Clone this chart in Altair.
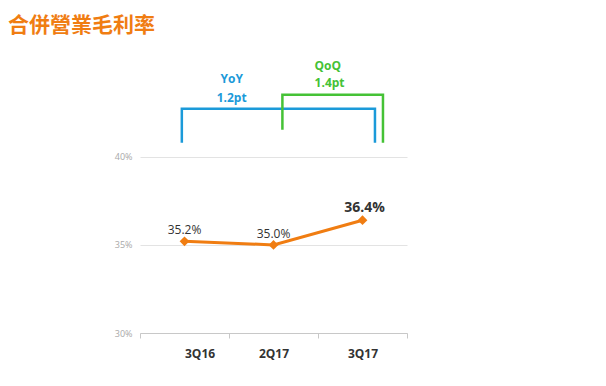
import altair as alt
import pandas as pd

# ---- data ----
categories = ["3Q16", "2Q17", "3Q17"]
margins = [35.2, 35.0, 36.4]
value_labels = ["35.2%", "35.0%", "36.4%"]

# comparison brackets (x in category-slot units, y in % units)
yoy_x = [0.47, 0.47, 2.64, 2.64]
yoy_y = [40.8, 42.73, 42.73, 40.8]
qoq_x = [1.60, 1.60, 2.73, 2.73]
qoq_y = [41.53, 43.52, 43.52, 40.8]
bracket_text_x = [1.03, 1.03, 2.11, 2.13]
bracket_text_y = [44.4, 43.32, 45.15, 44.18]
bracket_text = ["YoY", "1.2pt", "QoQ", "1.4pt"]
bracket_text_grp = ["YoY", "YoY", "QoQ", "QoQ"]

ORANGE = "#F07D12"
BLUE = "#1B9AD9"
GREEN = "#45C236"

pts = pd.DataFrame({
    "cat": categories,
    "pos": [i + 0.5 for i in range(len(categories))],
    "val": margins,
    "lab": value_labels,
    "idx": list(range(len(categories))),
})

br_rows = []
for i, (x, y) in enumerate(zip(yoy_x, yoy_y)):
    br_rows.append({"grp": "YoY", "o": i, "x": x, "y": y})
for i, (x, y) in enumerate(zip(qoq_x, qoq_y)):
    br_rows.append({"grp": "QoQ", "o": i, "x": x, "y": y})
br = pd.DataFrame(br_rows)

bt = pd.DataFrame({"x": bracket_text_x, "y": bracket_text_y,
                   "t": bracket_text, "grp": bracket_text_grp})

label_expr = "datum.value == 0 ? '3Q16' : datum.value == 1 ? '2Q17' : datum.value == 2 ? '3Q17' : ''"

xs = alt.Scale(domain=[0, 3], nice=False, zero=False)
ys = alt.Scale(domain=[30, 46], nice=False, zero=False)

x_enc = alt.X("pos:Q", scale=xs, axis=alt.Axis(
    values=[0, 1, 2, 3], labelExpr=label_expr, labelOffset=44.5,
    title=None, grid=False, domainColor="#c8c8c8", tickColor="#c8c8c8",
    tickSize=5, labelFont="Open Sans", labelFontWeight="bold",
    labelFontSize=12, labelColor="#333333", labelPadding=10))
y_enc = alt.Y("val:Q", scale=ys, axis=alt.Axis(
    values=[30, 35, 40], labelExpr="datum.value + '%'", title=None,
    domain=False, ticks=False, gridColor="#e3e3e3", labelColor="#a8a8a8",
    labelFontSize=9, labelFont="Open Sans", labelPadding=8))

color_scale = alt.Scale(domain=["YoY", "QoQ"], range=[BLUE, GREEN])

line = alt.Chart(pts).mark_line(color=ORANGE, strokeWidth=3).encode(x=x_enc, y=y_enc)
points = alt.Chart(pts).mark_point(shape="diamond", filled=True, color=ORANGE,
                                   size=95, opacity=1).encode(x="pos:Q", y="val:Q")
labels_reg = alt.Chart(pts).transform_filter("datum.idx < 2").mark_text(
    fontSize=12, color="#333333", font="Open Sans", dy=-11).encode(
    x="pos:Q", y="val:Q", text="lab:N")
labels_bold = alt.Chart(pts).transform_filter("datum.idx == 2").mark_text(
    fontSize=14, fontWeight="bold", color="#333333", font="Open Sans", dy=-12, dx=2).encode(
    x="pos:Q", y="val:Q", text="lab:N")

brackets = alt.Chart(br).mark_line(strokeWidth=2.5, strokeJoin="miter").encode(
    x="x:Q", y="y:Q", order="o:Q",
    color=alt.Color("grp:N", scale=color_scale, legend=None),
    detail="grp:N")
btext = alt.Chart(bt).mark_text(fontSize=12, fontWeight="bold", font="Open Sans").encode(
    x="x:Q", y="y:Q", text="t:N",
    color=alt.Color("grp:N", scale=color_scale, legend=None))

chart = alt.layer(line, points, labels_reg, labels_bold, brackets, btext).properties(
    width=267, height=282,
    autosize=alt.AutoSizeParams(type="none"),
    padding={"left": 132, "top": 43, "right": 20, "bottom": 40},
    title=alt.TitleParams("合併營業毛利率", anchor="start", frame="group", dx=-132,
                          offset=15, fontSize=21, color=ORANGE,
                          font="Noto Sans CJK TC", fontWeight="bold"),
).configure_view(stroke=None)

chart.save("out.html", embed_options={"renderer": "svg", "actions": False})
